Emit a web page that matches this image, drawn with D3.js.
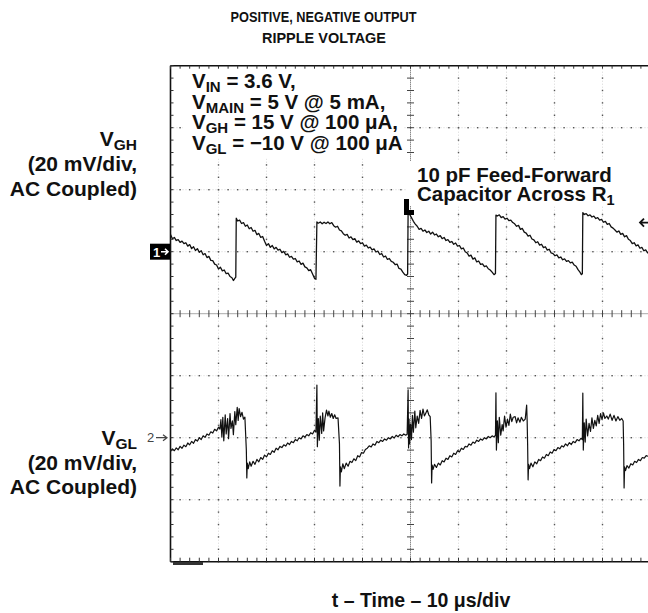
<!DOCTYPE html>
<html><head><meta charset="utf-8">
<script src="https://cdn.jsdelivr.net/npm/d3@7"></script>
<style>
body{margin:0;background:#fff}
svg text{font-family:"Liberation Sans",Arial,Helvetica,sans-serif;font-weight:bold;fill:#111}
</style>
</head><body><svg id="c" width="648" height="613"></svg>
<script>
// ---- data ----
const timeDomain = [0, 100];          // µs, 10 µs/div, 10 divisions
const divDomain = [-4, 4];            // vertical divisions
const mvPerDiv = 20;
const ch1Offset = 1;                  // ground marker "1" at +1 div
const ch2Offset = -2;                 // ground marker "2" at -2 div
const titleLines = ["POSITIVE, NEGATIVE OUTPUT", "RIPPLE VOLTAGE"];
const xLabel = "t \u2013 Time \u2013 10 \u03bcs/div";
// VGH trace: [time µs, mV]
const ch1 = [[0.0,5.5],[0.4,4.2],[0.8,4.6],[1.2,3.6],[1.6,3.9],[2.0,3.0],[2.4,3.4],[2.8,2.6],[3.2,2.9],[3.6,1.8],[4.0,2.3],[4.4,1.0],[4.8,1.6],[5.2,0.4],[5.6,1.0],[6.0,-0.2],[6.4,0.3],[6.8,-1.0],[7.2,-0.6],[7.6,-1.9],[8.0,-1.5],[8.4,-2.8],[8.8,-2.9],[9.2,-4.0],[9.6,-4.3],[10.0,-5.6],[10.4,-5.0],[10.8,-6.2],[11.2,-5.9],[11.6,-7.1],[12.0,-6.9],[12.4,-8.0],[12.8,-8.4],[13.1,-9.3],[13.4,-8.6],
[13.6,-8.2],[13.7,10.8],
[14.0,9.9],[14.4,10.2],[14.8,9.1],[15.2,9.4],[15.6,8.2],[16.0,8.6],[16.4,7.4],[16.8,7.8],[17.2,6.6],[17.6,6.9],[18.0,5.5],[18.4,5.9],[18.8,4.6],[19.2,4.9],[19.6,3.4],[20.0,2.0],[20.4,2.6],[20.8,1.4],[21.2,2.0],[21.6,0.9],[22.0,1.4],[22.4,0.5],[22.8,0.8],[23.2,-0.3],[23.6,0.1],[24.0,-1.0],[24.4,-0.7],[24.8,-1.8],[25.2,-1.5],[25.6,-2.4],[26.0,-2.2],[26.4,-3.3],[26.8,-3.0],[27.2,-4.1],[27.6,-3.7],[28.0,-4.9],[28.4,-5.2],[28.8,-6.1],[29.2,-5.8],[29.6,-7.2],[30.0,-8.6],[30.3,-8.9],
[30.5,9.6],
[30.8,9.2],[31.2,9.6],[31.6,9.0],[32.0,9.5],[32.4,9.1],[32.8,9.6],[33.2,9.0],[33.6,9.4],[34.0,8.4],[34.4,7.9],[34.8,8.2],[35.2,7.0],[35.6,6.7],[36.0,5.8],[36.4,5.3],[36.8,5.6],[37.2,4.4],[37.6,4.8],[38.0,3.9],[38.4,4.2],[38.8,3.1],[39.2,3.5],[39.6,2.6],[40.0,2.9],[40.4,1.8],[40.8,2.1],[41.2,1.2],[41.6,1.5],[42.0,0.6],[42.4,0.9],[42.8,-0.1],[43.2,0.2],[43.6,-0.9],[44.0,-0.6],[44.4,-1.7],[44.8,-1.4],[45.2,-2.5],[45.6,-2.2],[46.0,-3.1],[46.4,-3.4],[46.8,-4.2],[47.2,-4.0],[47.6,-5.4],[48.0,-5.6],[48.4,-6.6],[48.8,-7.4],[49.2,-7.6],[49.4,-7.2],
[49.5,12.6],
[49.8,12.1],[50.2,11.0],[50.6,9.8],[51.0,8.9],[51.4,8.2],[51.8,7.2],[52.2,7.5],[52.6,6.6],[53.0,7.0],[53.4,6.2],[53.8,6.6],[54.2,5.7],[54.6,6.3],[55.0,5.4],[55.4,5.7],[55.8,4.8],[56.2,5.2],[56.6,4.2],[57.0,4.6],[57.4,3.6],[57.8,3.9],[58.2,3.0],[58.6,3.3],[59.0,2.4],[59.4,2.8],[59.8,1.8],[60.2,2.0],[60.6,0.9],[61.0,1.2],[61.4,0.0],[61.8,-0.4],[62.2,-1.4],[62.6,-1.1],[63.0,-2.4],[63.4,-2.0],[63.8,-3.3],[64.2,-3.0],[64.6,-4.1],[65.0,-3.9],[65.4,-4.8],[65.8,-4.6],[66.2,-5.5],[66.6,-5.9],[67.0,-6.6],[67.4,-7.4],
[67.7,-7.0],[67.8,11.8],
[68.1,11.5],[68.5,11.9],[68.9,11.0],[69.3,11.3],[69.7,10.5],[70.1,10.8],[70.5,10.0],[70.9,10.2],[71.3,9.4],[71.7,9.0],[72.1,8.2],[72.5,8.5],[72.9,7.2],[73.3,7.5],[73.7,6.3],[74.1,6.0],[74.5,5.0],[74.9,5.3],[75.3,4.1],[75.7,3.8],[76.1,2.9],[76.5,3.2],[76.9,2.1],[77.3,2.4],[77.7,1.3],[78.1,1.6],[78.5,0.5],[78.9,0.8],[79.3,-0.4],[79.7,-0.6],[80.1,-1.3],[80.5,-1.0],[80.9,-2.0],[81.3,-1.7],[81.7,-2.6],[82.1,-2.3],[82.5,-3.1],[82.9,-2.9],[83.3,-3.6],[83.7,-3.4],[84.1,-4.3],[84.5,-4.7],[84.9,-5.8],[85.3,-6.6],[85.6,-7.4],
[85.8,-7.1],[85.9,12.6],
[86.2,12.0],[86.6,12.3],[87.0,11.6],[87.4,11.9],[87.8,11.2],[88.2,11.5],[88.6,10.7],[89.0,11.0],[89.4,10.2],[89.8,10.4],[90.2,9.5],[90.6,9.8],[91.0,8.8],[91.4,9.1],[91.8,8.0],[92.2,7.6],[92.6,7.0],[93.0,6.3],[93.4,6.7],[93.8,5.6],[94.2,5.9],[94.6,4.8],[95.0,5.2],[95.4,4.0],[95.8,3.6],[96.2,2.6],[96.6,2.9],[97.0,1.9],[97.4,2.2],[97.8,1.1],[98.2,1.4],[98.6,0.3],[99.0,0.6],[99.4,-0.4],[99.7,0.0]];
// VGL trace: [time µs, mV]
const ch2 = [[0.0,-4.4],[0.4,-3.6],[0.8,-4.2],[1.2,-3.3],[1.6,-3.9],[2.0,-2.8],[2.4,-3.4],[2.8,-2.4],[3.2,-2.9],[3.6,-1.7],[4.0,-2.3],[4.4,-1.2],[4.8,-1.8],[5.2,-0.6],[5.6,-1.1],[6.0,0.0],[6.4,-0.6],[6.8,0.6],[7.2,0.1],[7.6,1.2],[8.0,0.8],[8.4,1.9],[8.8,1.5],[9.2,2.7],[9.6,2.2],[10.0,3.4],[10.3,2.8],
[10.5,5.8],[10.7,0.2],[10.9,6.6],[11.1,-1.0],[11.4,7.4],[11.6,1.2],[11.9,6.2],[12.1,-0.3],[12.4,7.8],[12.6,3.0],[12.9,5.4],[13.1,1.0],[13.4,8.4],[13.6,4.2],[13.9,9.8],[14.1,5.6],[14.3,9.4],[14.6,6.8],[14.9,8.2],[15.2,6.0],[15.5,6.6],
[15.8,-4.0],[15.9,-13.0],[16.0,-8.2],[16.2,-10.0],[16.5,-7.8],
[16.8,-9.2],[17.2,-7.6],[17.6,-8.6],[18.0,-7.0],[18.4,-7.8],[18.8,-6.4],[19.2,-7.0],[19.6,-5.6],[20.0,-6.2],[20.4,-5.0],[20.8,-5.4],[21.2,-4.2],[21.6,-4.7],[22.0,-3.4],[22.4,-3.9],[22.8,-2.8],[23.2,-3.2],[23.6,-2.3],[24.0,-2.7],[24.4,-1.7],[24.8,-2.2],[25.2,-1.2],[25.6,-1.6],[26.0,-0.6],[26.4,-1.0],[26.8,0.0],[27.2,-0.4],[27.6,0.6],[28.0,0.2],[28.4,1.0],[28.8,0.6],[29.2,1.6],[29.6,1.2],[30.0,2.4],[30.3,1.8],
[30.5,17.0],[30.6,-2.9],[30.8,6.2],[31.0,-0.8],[31.2,7.0],[31.5,1.4],[31.7,8.0],[31.9,2.2],[32.2,6.4],[32.5,8.9],[32.8,7.0],[33.0,8.6],[33.3,6.6],[33.6,7.8],[33.9,6.2],[34.2,7.4],[34.5,6.2],[34.9,6.4],
[35.2,-2.0],[35.3,-15.6],[35.4,-9.4],[35.6,-11.0],[35.9,-8.4],
[36.2,-10.0],[36.6,-8.2],[37.0,-9.2],[37.4,-7.6],[37.8,-8.0],[38.2,-6.8],[38.6,-7.4],[39.0,-5.8],[39.4,-6.2],[39.8,-4.8],[40.2,-5.0],[40.6,-3.8],[41.0,-3.4],[41.4,-2.6],[41.8,-3.0],[42.2,-2.0],[42.6,-2.4],[43.0,-1.2],[43.4,-1.6],[43.8,-0.8],[44.2,-1.2],[44.6,-0.4],[45.0,-0.8],[45.4,0.0],[45.8,-0.4],[46.2,0.4],[46.6,-0.1],[47.0,0.8],[47.4,0.3],[47.8,1.0],[48.2,0.6],[48.6,1.2],[49.0,0.8],[49.3,1.1],
[49.5,15.4],[49.6,-3.3],[49.7,6.0],[49.8,-2.0],[50.0,4.4],[50.2,-0.6],[50.4,7.2],[50.6,1.8],[50.9,8.6],[51.1,3.2],[51.4,7.0],[51.7,4.6],[52.0,8.8],[52.3,6.2],[52.6,9.2],[52.9,7.0],[53.2,8.0],[53.5,9.0],[53.8,7.4],[54.1,6.8],
[54.3,-1.0],[54.4,-14.6],[54.5,-8.8],[54.7,-10.2],[55.0,-8.6],
[55.4,-9.6],[55.8,-8.2],[56.2,-8.8],[56.6,-7.4],[57.0,-7.8],[57.4,-6.6],[57.8,-7.0],[58.2,-5.8],[58.6,-6.2],[59.0,-5.0],[59.4,-5.4],[59.8,-4.2],[60.2,-4.6],[60.6,-3.4],[61.0,-3.8],[61.4,-2.8],[61.8,-3.0],[62.2,-2.0],[62.6,-2.4],[63.0,-1.4],[63.4,-1.8],[63.8,-0.8],[64.2,-1.2],[64.6,-0.4],[65.0,-0.8],[65.4,0.0],[65.8,-0.4],[66.2,0.4],[66.6,0.0],[67.0,0.6],[67.4,0.2],[67.7,0.8],
[67.8,14.5],[67.9,-4.0],[68.1,5.4],[68.3,-1.6],[68.5,6.6],[68.8,0.8],[69.1,4.2],[69.3,2.2],[69.6,7.0],[69.9,3.4],[70.2,6.0],[70.5,4.0],[70.8,7.6],[71.1,5.2],[71.4,6.6],[71.8,6.8],[72.1,4.8],[72.4,6.4],[72.8,5.0],[73.1,6.6],[73.5,5.4],[73.9,6.0],[74.2,10.5],[74.3,5.6],
[74.4,-2.0],[74.5,-13.6],[74.6,-8.6],[74.8,-10.0],[75.1,-8.2],
[75.5,-9.4],[75.9,-7.8],[76.3,-8.4],[76.7,-7.0],[77.1,-7.4],[77.5,-6.2],[77.9,-6.6],[78.3,-5.4],[78.7,-5.8],[79.1,-4.6],[79.5,-5.0],[79.9,-3.8],[80.3,-4.2],[80.7,-3.2],[81.1,-3.6],[81.5,-2.6],[81.9,-3.0],[82.3,-2.0],[82.7,-2.6],[83.1,-1.6],[83.5,-2.2],[83.9,-1.2],[84.3,-1.6],[84.7,-0.6],[85.1,-1.0],[85.5,-0.2],[85.8,-0.6],
[85.9,14.4],[86.0,-4.0],[86.2,4.8],[86.4,-1.4],[86.6,6.0],[86.9,0.6],[87.2,4.6],[87.5,2.0],[87.8,6.4],[88.1,3.0],[88.4,5.6],[88.7,3.8],[89.0,7.2],[89.3,4.6],[89.6,7.8],[89.9,5.8],[90.2,8.0],[90.5,6.2],[90.9,7.0],[91.2,6.0],[91.6,7.6],[92.0,5.6],[92.4,7.2],[92.8,5.4],[93.2,6.8],[93.6,5.6],[94.0,6.2],[94.3,5.4],
[94.4,-2.0],[94.5,-16.2],[94.6,-9.4],[94.8,-10.6],[95.1,-9.0],
[95.5,-9.8],[95.9,-8.4],[96.3,-8.8],[96.7,-7.6],[97.1,-8.0],[97.5,-7.0],[97.9,-7.4],[98.3,-6.4],[98.7,-6.6],[99.1,-5.8],[99.5,-6.0],[99.8,-5.4]];

// ---- drawing ----
const svg = d3.select("#c");
const L = 170.5, R = 650.5, T = 65.7, B = 561.7, VISR = 648;
const x = d3.scaleLinear().domain(timeDomain).range([L, R]);
const yd = d3.scaleLinear().domain(divDomain).range([B, T]);
const y1 = d3.scaleLinear().domain([(divDomain[0]-ch1Offset)*mvPerDiv,(divDomain[1]-ch1Offset)*mvPerDiv]).range([B, T]);
const y2 = d3.scaleLinear().domain([(divDomain[0]-ch2Offset)*mvPerDiv,(divDomain[1]-ch2Offset)*mvPerDiv]).range([B, T]);

svg.append("defs").append("clipPath").attr("id","clip")
  .append("rect").attr("x",L).attr("y",T-4).attr("width",VISR-L).attr("height",B-T+8);
const g = svg.append("g").attr("clip-path","url(#clip)");

const majorT = d3.range(timeDomain[0], timeDomain[1]+0.01, 10);
const minorT = d3.range(timeDomain[0], timeDomain[1]+0.01, 2);
const majorD = d3.range(divDomain[0], divDomain[1]+0.01, 1);
const minorD = d3.range(divDomain[0], divDomain[1]+0.01, 0.2);

// grid lines (faint) + dots
majorT.filter(t => t>0 && t<100 && t!==50).forEach(t => {
  g.append("line").attr("x1",x(t)).attr("x2",x(t)).attr("y1",T).attr("y2",B)
    .attr("stroke","#d6d6d6").attr("stroke-width",1).attr("stroke-dasharray","1,2");
  g.selectAll(null).data(minorD).enter().append("rect")
    .attr("x",x(t)-0.7).attr("y",d=>yd(d)-0.7).attr("width",1.4).attr("height",1.4).attr("fill","#555");
});
majorD.filter(d => d>-4 && d<4 && d!==0).forEach(d => {
  g.append("line").attr("x1",L).attr("x2",R).attr("y1",yd(d)).attr("y2",yd(d))
    .attr("stroke","#d6d6d6").attr("stroke-width",1).attr("stroke-dasharray","1,2");
  g.selectAll(null).data(minorT).enter().append("rect")
    .attr("x",t=>x(t)-0.7).attr("y",yd(d)-0.7).attr("width",1.4).attr("height",1.4).attr("fill","#555");
});
// center axes
g.append("line").attr("x1",L).attr("x2",R).attr("y1",yd(0)).attr("y2",yd(0))
  .attr("stroke","#555").attr("stroke-width",1).attr("stroke-dasharray","1,1");
g.selectAll(null).data(minorT).enter().append("line")
  .attr("x1",t=>x(t)).attr("x2",t=>x(t)).attr("y1",yd(0)-3.5).attr("y2",yd(0)+3.5)
  .attr("stroke","#444").attr("stroke-width",1);
g.append("line").attr("x1",x(50)).attr("x2",x(50)).attr("y1",T).attr("y2",B)
  .attr("stroke","#555").attr("stroke-width",1).attr("stroke-dasharray","1,1");
g.selectAll(null).data(minorD).enter().append("line")
  .attr("x1",x(50)-3.5).attr("x2",x(50)+3.5).attr("y1",d=>yd(d)).attr("y2",d=>yd(d))
  .attr("stroke","#444").attr("stroke-width",1);

// white text boxes
svg.append("rect").attr("x",183).attr("y",67.5).attr("width",221).attr("height",91).attr("fill","#fff");
svg.append("rect").attr("x",407).attr("y",161).attr("width",241).attr("height",45).attr("fill","#fff");

// border
const bord = svg.append("g");
bord.append("line").attr("x1",L).attr("x2",VISR).attr("y1",T).attr("y2",T).attr("stroke","#111").attr("stroke-width",1.6);
bord.append("line").attr("x1",L).attr("x2",VISR).attr("y1",B).attr("y2",B).attr("stroke","#111").attr("stroke-width",1.6);
bord.append("line").attr("x1",L).attr("x2",L).attr("y1",T).attr("y2",B).attr("stroke","#111").attr("stroke-width",1.6);
bord.selectAll(null).data(minorT.filter(t=>x(t)<VISR)).enter().append("line")
  .attr("x1",t=>x(t)).attr("x2",t=>x(t)).attr("y1",T).attr("y2",T+3).attr("stroke","#333").attr("stroke-width",1);
bord.selectAll(null).data(minorT.filter(t=>x(t)<VISR)).enter().append("line")
  .attr("x1",t=>x(t)).attr("x2",t=>x(t)).attr("y1",B).attr("y2",B-4).attr("stroke","#333").attr("stroke-width",1);
bord.selectAll(null).data(minorD).enter().append("line")
  .attr("x1",L).attr("x2",L+3).attr("y1",d=>yd(d)).attr("y2",d=>yd(d)).attr("stroke","#333").attr("stroke-width",1);
// small bar below bottom-left
svg.append("rect").attr("x",173).attr("y",562).attr("width",30).attr("height",3).attr("fill","#333");

// traces
const line1 = d3.line().x(d=>x(d[0])).y(d=>y1(d[1]));
const line2 = d3.line().x(d=>x(d[0])).y(d=>y2(d[1]));
g.append("path").datum(ch1).attr("d",line1).attr("fill","none").attr("stroke","#111").attr("stroke-width",1.3).attr("stroke-linejoin","round");
g.append("path").datum(ch2).attr("d",line2).attr("fill","none").attr("stroke","#111").attr("stroke-width",1.2).attr("stroke-linejoin","round");

// channel markers
const m1y = y1(0);
svg.append("rect").attr("x",150).attr("y",m1y-8).attr("width",20).attr("height",16).attr("fill","#000");
svg.append("text").attr("x",153).attr("y",m1y+5).attr("font-size",13).style("fill","#fff").text("1");
svg.append("path").attr("d",`M161,${m1y} L168,${m1y} M165,${m1y-3} L168,${m1y} L165,${m1y+3}`)
  .attr("stroke","#fff").attr("stroke-width",1.6).attr("fill","none");
const m2y = y2(0);
svg.append("text").attr("x",147).attr("y",m2y+4.5).attr("font-size",13).style("font-weight","normal").style("fill","#444").text("2");
svg.append("path").attr("d",`M156,${m2y} L167,${m2y} M163,${m2y-3} L167,${m2y} L163,${m2y+3}`)
  .attr("stroke","#444").attr("stroke-width",1.2).attr("fill","none");
// trigger position marker
svg.append("rect").attr("x",404).attr("y",199).attr("width",5).attr("height",16).attr("fill","#000");
svg.append("rect").attr("x",404).attr("y",210).attr("width",10).attr("height",5).attr("fill","#000");
// trigger level marker
const tly = y1(9.4);
svg.append("path").attr("d",`M640,${tly} L648,${tly} M644,${tly-4} L640,${tly} L644,${tly+4}`)
  .attr("stroke","#111").attr("stroke-width",1.8).attr("fill","none");

// titles (condensed bold)
svg.append("text").attr("x",323.5).attr("y",21.5).attr("text-anchor","middle").attr("font-size",15.5)
  .attr("textLength",186).attr("lengthAdjust","spacingAndGlyphs").text(titleLines[0]);
svg.append("text").attr("x",324).attr("y",42.5).attr("text-anchor","middle").attr("font-size",15.5)
  .attr("textLength",124).attr("lengthAdjust","spacingAndGlyphs").text(titleLines[1]);
svg.append("text").attr("x",421).attr("y",607).attr("text-anchor","middle").attr("font-size",19.5).text(xLabel);

// left channel labels
function chanLabel(sub, y0) {
  const t = svg.append("text").attr("text-anchor","end").attr("font-size",21);
  const a = t.append("tspan").attr("x",137).attr("y",y0);
  a.append("tspan").text("V");
  a.append("tspan").attr("font-size",15.5).attr("dy",4).text(sub);
  t.append("tspan").attr("x",137).attr("y",y0+25).text("(20 mV/div,");
  t.append("tspan").attr("x",137).attr("y",y0+49.5).text("AC Coupled)");
}
chanLabel("GH", 146);
chanLabel("GL", 444.5);

// annotation block
const ann = [["IN"," = 3.6 V,"],["MAIN"," = 5 V @ 5 mA,"],["GH"," = 15 V @ 100 \u03bcA,"],["GL"," = \u221210 V @ 100 \u03bcA"]];
ann.forEach((a,i) => {
  const t = svg.append("text").attr("x",192).attr("y",88+i*20.7).attr("font-size",20.5);
  t.append("tspan").text("V");
  t.append("tspan").attr("font-size",15).attr("dy",4).text(a[0]);
  t.append("tspan").attr("dy",-4).text(a[1]);
});
const ff = svg.append("text").attr("font-size",20.5);
ff.append("tspan").attr("x",417).attr("y",181.5).text("10 pF Feed-Forward");
ff.append("tspan").attr("x",417).attr("y",201).text("Capacitor Across R");
ff.append("tspan").attr("font-size",14.5).attr("dy",4).text("1");
</script>
</body></html>
